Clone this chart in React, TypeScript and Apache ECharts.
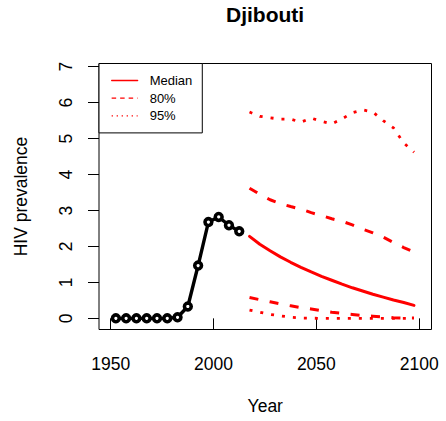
import React, { useEffect, useRef } from "react";
import * as echarts from "echarts";

const FONT = "'Liberation Sans', Arial, Helvetica, sans-serif";

const titleText = "Djibouti";
const xAxisName = "Year";
const yAxisName = "HIV prevalence";
const xTicks = [1950, 2000, 2050, 2100];
const yTicks = [0, 1, 2, 3, 4, 5, 6, 7];

const histYears = [1952.5, 1957.5, 1962.5, 1967.5, 1972.5, 1977.5, 1982.5, 1987.5, 1992.5, 1997.5, 2002.5, 2007.5, 2012.5];
const histValues = [0, 0, 0, 0, 0, 0, 0.03, 0.33, 1.47, 2.68, 2.82, 2.59, 2.42];

const projYears = [2017.5, 2022.5, 2027.5, 2032.5, 2037.5, 2042.5, 2047.5, 2052.5, 2057.5, 2062.5, 2067.5, 2072.5, 2077.5, 2082.5, 2087.5, 2092.5, 2097.5];
const median = [2.28, 2.06, 1.88, 1.71, 1.56, 1.42, 1.29, 1.17, 1.06, 0.95, 0.85, 0.76, 0.67, 0.59, 0.51, 0.44, 0.36];
const upper80 = [3.62, 3.45, 3.3, 3.19, 3.11, 3.04, 2.94, 2.86, 2.77, 2.7, 2.6, 2.48, 2.38, 2.26, 2.11, 1.97, 1.85];
const lower80 = [0.58, 0.52, 0.46, 0.4, 0.35, 0.3, 0.26, 0.21, 0.17, 0.14, 0.11, 0.08, 0.06, 0.04, 0.02, 0.01, 0.01];
const upper95 = [5.74, 5.62, 5.58, 5.54, 5.54, 5.46, 5.57, 5.48, 5.41, 5.55, 5.72, 5.8, 5.74, 5.5, 5.3, 4.88, 4.62];
const lower95 = [0.23, 0.17, 0.11, 0.07, 0.03, 0.01, 0.005, 0, 0, 0, 0, 0, 0, 0, 0, 0, 0];

const legendNames = ["Median", "80%", "95%"];

const pairs = (xs: number[], ys: number[]) => xs.map((x, i) => [x, ys[i]]);

const RED = "#ff0000";
const DASH = [9, 11.5];
const DOT = [3, 8];

function redSeries(name: string, ys: number[], type: any, width: number) {
  return {
    type: "line",
    name,
    data: pairs(projYears, ys),
    symbol: "none",
    silent: true,
    z: 3,
    lineStyle: { color: RED, width, type, cap: type === "solid" ? "round" : "butt" },
    itemStyle: { color: RED },
  };
}

const hiddenSymbol = { color: "rgba(0,0,0,0)", borderWidth: 0, opacity: 0 };

export default function App() {
  const ref = useRef<HTMLDivElement>(null);
  useEffect(() => {
    if (!ref.current) return;
    const chart = echarts.init(ref.current, null, { renderer: "svg" });
    chart.setOption({
      animation: false,
      backgroundColor: "#ffffff",
      textStyle: { fontFamily: FONT },
      title: {
        text: titleText,
        left: 226,
        top: 4,
        padding: 0,
        textStyle: { fontFamily: FONT, fontSize: 21, fontWeight: "bold", color: "#000" },
      },
      grid: {
        left: 99,
        top: 63.5,
        right: 14.5,
        bottom: 91.5,
        show: true,
        borderColor: "#000",
        borderWidth: 1,
        backgroundColor: "transparent",
        outerBoundsMode: "none",
        containLabel: false,
      },
      legend: {
        orient: "vertical",
        left: 99,
        top: 63.5,
        data: [
          { name: legendNames[0], lineStyle: { type: "solid", width: 1.3 }, itemStyle: hiddenSymbol },
          { name: legendNames[1], lineStyle: { type: [4.5, 4], width: 1.3 }, itemStyle: hiddenSymbol },
          { name: legendNames[2], lineStyle: { type: [1.3, 3.7], width: 1.3 }, itemStyle: hiddenSymbol },
        ],
        padding: [10.5, 10, 10.5, 12],
        itemWidth: 26,
        itemHeight: 12,
        itemGap: 4.7,
        backgroundColor: "#fff",
        borderColor: "#000",
        borderWidth: 1,
        selectedMode: false,
        textStyle: { fontFamily: FONT, fontSize: 13, color: "#000", padding: [0, 0, 0, 7] },
      },
      xAxis: {
        type: "value",
        min: 1944.3,
        max: 2106,
        name: xAxisName,
        nameLocation: "middle",
        nameGap: 67,
        nameTextStyle: { fontFamily: FONT, fontSize: 17.5, color: "#000" },
        axisLine: { show: false },
        splitLine: { show: false },
        axisTick: { show: true, length: 11, inside: false, customValues: xTicks, lineStyle: { color: "#000", width: 1 } },
        axisLabel: {
          customValues: xTicks,
          margin: 25,
          fontFamily: FONT,
          fontSize: 17.5,
          color: "#000",
          formatter: (v: number) => String(v),
        },
      },
      yAxis: {
        type: "value",
        min: -0.31,
        max: 7.09,
        name: yAxisName,
        nameLocation: "middle",
        nameGap: 69,
        nameRotate: 90,
        nameTextStyle: { fontFamily: FONT, fontSize: 17.5, color: "#000" },
        axisLine: { show: false },
        splitLine: { show: false },
        axisTick: { show: true, length: 11, inside: false, customValues: yTicks, lineStyle: { color: "#000", width: 1 } },
        axisLabel: {
          customValues: yTicks,
          rotate: 90,
          margin: 24,
          fontFamily: FONT,
          fontSize: 17.5,
          color: "#000",
          formatter: (v: number) => String(v),
        },
      },
      series: [
        {
          type: "line",
          name: "Observed",
          data: pairs(histYears, histValues),
          symbol: "circle",
          symbolSize: 6.8,
          showAllSymbol: true,
          silent: true,
          z: 4,
          lineStyle: { color: "#000", width: 3.4, cap: "round" },
          itemStyle: { color: "#ffffff", borderColor: "#000000", borderWidth: 3.6 },
        },
        redSeries("Median", median, "solid", 3),
        redSeries("80%", upper80, DASH, 3),
        redSeries("80%", lower80, DASH, 3),
        redSeries("95%", upper95, DOT, 2.8),
        redSeries("95%", lower95, DOT, 2.8),
      ],
    });
    return () => chart.dispose();
  }, []);
  return <div ref={ref} style={{ position: "fixed", left: 0, top: 0, width: 446, height: 421 }} />;
}
